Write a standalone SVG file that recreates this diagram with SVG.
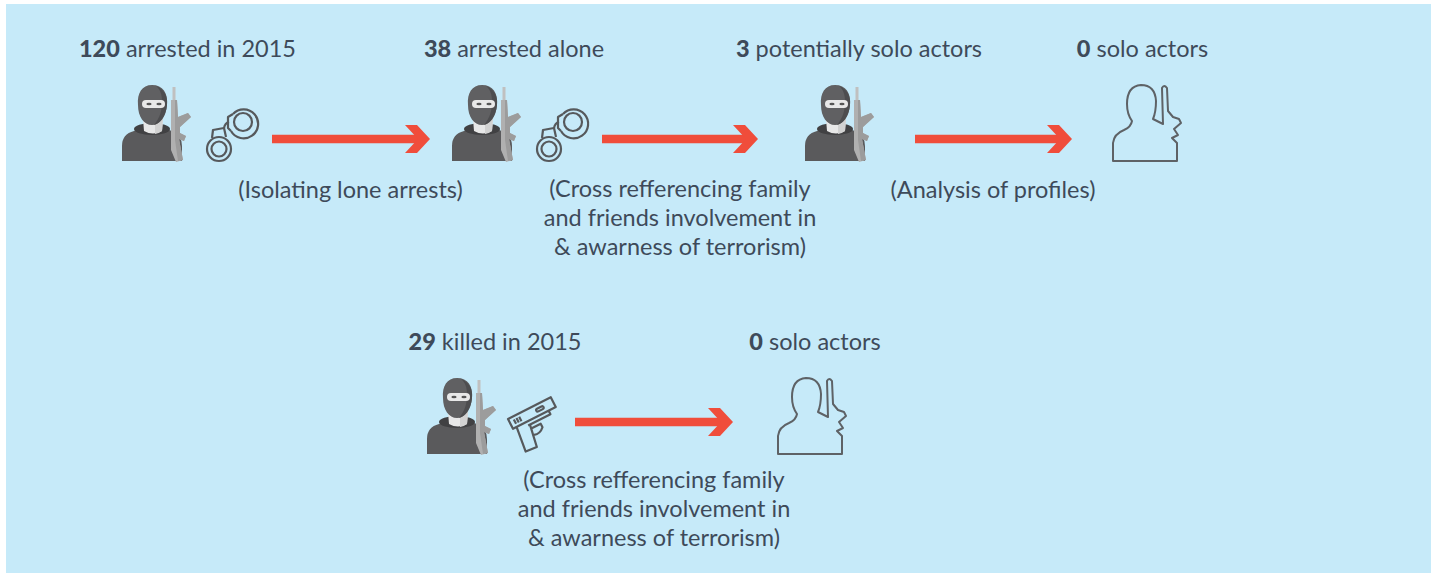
<svg xmlns="http://www.w3.org/2000/svg" width="1431" height="573" viewBox="0 0 1431 573">
<style>
.lbl{font-family:Lato,"Liberation Sans",sans-serif;font-size:23.5px;fill:#3e4a5a;text-anchor:middle}
.num{font-weight:900}
.shaft{stroke:#f04d3b;stroke-width:8.5;fill:none;marker-end:url(#chev)}
.cuff{fill:none;stroke:#56595c;stroke-width:2.2;stroke-linejoin:round}
.outl{fill:none;stroke:#5e6266;stroke-width:2;stroke-linejoin:round}
</style>
<defs>
<marker id="chev" viewBox="0 0 26 28" refX="20" refY="14" markerWidth="26" markerHeight="28" markerUnits="userSpaceOnUse" orient="auto">
<path d="M0,0 L12,0 L25,14 L12,28 L0,28 L13,14 Z" fill="#f04d3b"/>
</marker>
<g id="masked">
<path d="M122,161 L122,146 Q122,134 134,131 L146,127 L160,127 L172,131 Q182,135 182,146 L182,161 Z" fill="#5a5a5c"/>
<ellipse cx="152" cy="129" rx="18" ry="6" fill="#414143"/>
<path d="M143,119 L163,119 L162,131 Q153,136 144,131 Z" fill="#e8e8e8"/>
<path d="M155,119 L163,119 L162,131 Q158,134 155,134 Z" fill="#d2d2d2"/>
<path d="M152,85 C163,85 168,93 167,105 C166,117 160,125 152,125 C144,125 138,117 138,105 C137,93 142,85 152,85 Z" fill="#606062"/>
<path d="M156,86 C164,89 168,96 167,105 C166,115 161,123 154,125 C160,118 162,110 162,102 C162,94 160,89 156,86 Z" fill="#4d4d4f"/>
<rect x="142" y="100" width="23" height="8" rx="4" fill="#e8e8e8"/>
<ellipse cx="149" cy="104" rx="2.6" ry="1.3" fill="#555"/>
<ellipse cx="159" cy="104" rx="2.6" ry="1.3" fill="#555"/>
<rect x="172.5" y="87" width="3" height="14" fill="#c0c0c0"/>
<path d="M171,100 L177,100 L178,117 L188,113 L191,117 L180,127 L180,133 L186,136 L184,141 L179,139 L183,160 L176,162 L171,150 Z" fill="#b0b0b0"/>
<path d="M175,100 L177,100 L178,117 L188,113 L191,117 L180,127 L180,133 L186,136 L184,141 L179,139 L183,160 L178,161 L175,140 Z" fill="#9c9c9c"/>
</g>
<g id="cuffs">
<circle class="cuff" cx="219" cy="149" r="12"/>
<circle class="cuff" cx="219" cy="149" r="7.5"/>
<path class="cuff" d="M233,114 A14.5,14.5 0 1 1 231,131"/>
<circle class="cuff" cx="243" cy="122" r="9"/>
<path class="cuff" d="M212,138 L213,130 L224,128 L226,137"/>
<path class="cuff" d="M224,128 Q225,123 229,122"/>
<path class="cuff" d="M233,114 L228,117 L228,128 L231,131"/>
</g>
<path id="outline" class="outl" d="M1113,161 L1113,143 Q1114,134 1124,130 Q1131,127 1132,121 Q1127,114 1127,104 Q1127,86 1141,85 Q1155,85 1156,101 Q1156,112 1153,119 L1163,124 L1162,88 Q1164,84 1167,88 L1168,111 L1173,117 L1179,119 L1181,123 L1174,129 L1178,135 L1172,138 L1177,143 L1177,161 Z"/>
</defs>
<rect x="6" y="4" width="1425" height="569" fill="#c6eaf9"/>
<g id="node-arrested">
<use href="#masked"/>
<use href="#cuffs"/>
<text class="lbl" x="187.5" y="57"><tspan class="num">120</tspan> arrested in 2015</text>
</g>
<g id="node-alone">
<use href="#masked" transform="translate(330,0)"/>
<use href="#cuffs" transform="translate(330,0)"/>
<text class="lbl" x="514" y="57"><tspan class="num">38</tspan> arrested alone</text>
</g>
<g id="node-potential">
<use href="#masked" transform="translate(683,0)"/>
<text class="lbl" x="859" y="57"><tspan class="num">3</tspan> potentially solo actors</text>
</g>
<g id="node-solo1">
<use href="#outline"/>
<text class="lbl" x="1142.5" y="57"><tspan class="num">0</tspan> solo actors</text>
</g>
<g id="node-killed">
<use href="#masked" transform="translate(305,293)"/>
<g class="cuff" transform="translate(508,419) rotate(-27)">
<path d="M0,0 L48,0 L48,11 L0,11 Z"/>
<path d="M40,11 L40,15 L15,15"/>
<path d="M4,11 L1,37 L13,38 L17,15"/>
<path d="M17,19 L27,19 L27,23 Q22,28 16,26"/>
<path d="M5,3 L5,8 M8,3 L8,8 M11,3 L11,8"/>
<rect x="29" y="4" width="8" height="3" rx="1.5"/>
</g>
<text class="lbl" x="495" y="350"><tspan class="num">29</tspan> killed in 2015</text>
</g>
<g id="node-solo2">
<use href="#outline" transform="translate(-335,293)"/>
<text class="lbl" x="815" y="350"><tspan class="num">0</tspan> solo actors</text>
</g>
<g id="connectors">
<path class="shaft" d="M272,139 L425,139"/>
<path class="shaft" d="M602,139 L753,139"/>
<path class="shaft" d="M915,139 L1067,139"/>
<path class="shaft" d="M575,422 L728,422"/>
<text class="lbl" x="350.5" y="198">(Isolating lone arrests)</text>
<text class="lbl" x="680" y="197">(Cross refferencing family</text>
<text class="lbl" x="680" y="226">and friends involvement in</text>
<text class="lbl" x="680" y="255">&amp; awarness of terrorism)</text>
<text class="lbl" x="993" y="198">(Analysis of profiles)</text>
<text class="lbl" x="654" y="488">(Cross refferencing family</text>
<text class="lbl" x="654" y="517">and friends involvement in</text>
<text class="lbl" x="654" y="546">&amp; awarness of terrorism)</text>
</g>
</svg>
